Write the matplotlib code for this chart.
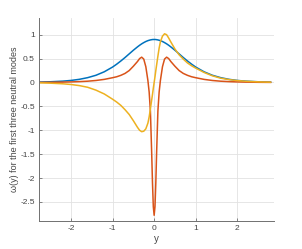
import matplotlib
matplotlib.use('Agg')
import matplotlib.pyplot as plt
import numpy as np

# positive half of the y grid (mirrored below)
y_half = [0, 0.02, 0.04, 0.06, 0.09, 0.12, 0.15, 0.2, 0.25, 0.3, 0.35, 0.4,
          0.5, 0.6, 0.7, 0.8, 0.9, 1.0, 1.2, 1.4, 1.6, 1.8, 2.0, 2.2, 2.5, 2.8]

# mode 1 (even)
mode1_half = [0.9, 0.9, 0.899, 0.896, 0.891, 0.884, 0.876, 0.858, 0.835, 0.809,
              0.779, 0.746, 0.675, 0.599, 0.523, 0.451, 0.384, 0.323, 0.224,
              0.151, 0.101, 0.066, 0.043, 0.028, 0.015, 0.0075]
# mode 2 (even)
mode2_half = [-2.78, -2.6, -2.1, -1.45, -0.6, -0.2, 0.04, 0.33, 0.49, 0.53,
              0.5, 0.44, 0.34, 0.25, 0.19, 0.15, 0.12, 0.1, 0.065, 0.042,
              0.027, 0.018, 0.012, 0.008, 0.004, 0.002]
# mode 3, right half and left half read separately
mode3_right = [0, 0.12, 0.25, 0.37, 0.55, 0.72, 0.85, 0.97, 1.02, 1.0, 0.93, 0.85,
               0.7, 0.58, 0.49, 0.41, 0.35, 0.3, 0.21, 0.14, 0.09, 0.06, 0.04,
               0.026, 0.013, 0.006]
mode3_left = [0, -0.12, -0.25, -0.37, -0.55, -0.72, -0.85, -0.97, -1.02, -1.03,
              -1.0, -0.94, -0.8, -0.67, -0.57, -0.48, -0.41, -0.35, -0.24,
              -0.16, -0.1, -0.065, -0.042, -0.027, -0.014, -0.006]

y = np.concatenate([-np.array(y_half[:0:-1]), y_half])
m1 = np.concatenate([mode1_half[:0:-1], mode1_half])
m2 = np.concatenate([mode2_half[:0:-1], mode2_half])
m3 = np.concatenate([mode3_left[:0:-1], mode3_right])

plt.rcParams['font.family'] = ['Liberation Sans', 'DejaVu Sans']

fig = plt.figure(figsize=(3.02, 2.49), dpi=100)
ax = fig.add_axes([0.129, 0.1124, 0.778, 0.8153])

ax.plot(y, m1, color='#0072BD', lw=1.1)
ax.plot(y, m2, color='#D95319', lw=1.1)
ax.plot(y, m3, color='#EDB120', lw=1.1)

ax.set_xlim(-2.77, 2.88)
ax.set_ylim(-2.9, 1.35)
ax.set_xticks([-2, -1, 0, 1, 2])
ax.set_yticks([-2.5, -2, -1.5, -1, -0.5, 0, 0.5, 1])
ax.set_yticklabels(['-2.5', '-2', '-1.5', '-1', '-0.5', '0', '0.5', '1'])
ax.set_xticklabels(['-2', '-1', '0', '1', '2'])
ax.grid(True, color='#e2e2e2', lw=0.6)
ax.set_axisbelow(True)
for s in ['top', 'right']:
    ax.spines[s].set_visible(False)
for s in ['left', 'bottom']:
    ax.spines[s].set_color('#707070')
    ax.spines[s].set_linewidth(0.7)
ax.tick_params(direction='in', length=2.5, width=0.6, colors='#707070',
               labelsize=6, labelcolor='#444444', pad=3)

ax.set_xlabel('y', fontsize=7, color='#444444', labelpad=1)
ax.set_ylabel('ω(y) for the first three neutral modes', fontsize=6.5,
              color='#444444')
ax.yaxis.set_label_coords(-0.083, 0.5)

fig.savefig('out.png', dpi=100)
